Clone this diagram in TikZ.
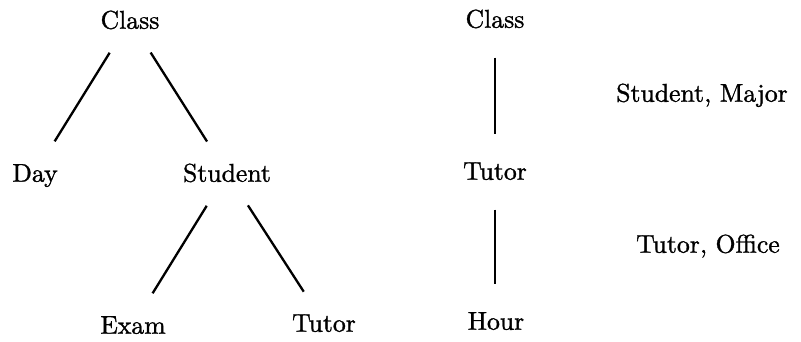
\documentclass[tikz,border=0pt]{standalone}
\usepackage{fontspec}
\setmainfont{Latin Modern Roman}[BoldFont={Latin Modern Roman},BoldFeatures={FakeBold=1.2}]
\usepackage{tikz}
\usetikzlibrary{positioning}
\tikzset{
  word/.style={inner sep=0pt,text height=6.8pt,text depth=0pt,font=\normalsize\bfseries},
  link/.style={line width=.9pt,shorten <=15pt,shorten >=14.5pt}
}
\begin{document}
\begin{tikzpicture}[x=0.389pt,y=-0.389pt]
\useasboundingbox (0,0) rectangle (801,342);
% left tree
\node[word] (cls) at (130,20) {Class};
\node[word] (day) at (35,173) {Day};
\node[word] (stu) at (227,173) {Student};
\node[word] (exm) at (133,325) {Exam};
\node[word] (tut) at (324,323) {Tutor};
\draw[link] (cls.center) -- (day.center);
\draw[link] (cls.center) -- (stu.center);
\draw[link] (stu.center) -- (exm.center);
\draw[link] (stu.center) -- (tut.center);
% right chain
\node[word] (clsr) at (495,19) {Class};
\node[word] (tutr) at (495,171) {Tutor};
\node[word] (hour) at (496,321) {Hour};
\draw[link] (clsr.center) -- (tutr.center);
\draw[link] (tutr.center) -- (hour.center -| tutr.center);
\node[word] (sm) at (702,93) {Student, Major};
\node[word] (to) at (708,244) {Tutor, Office};
\end{tikzpicture}
\end{document}
